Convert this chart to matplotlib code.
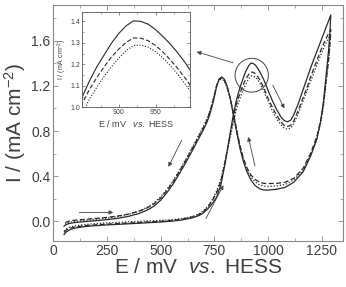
import matplotlib
matplotlib.use('Agg')
import matplotlib.pyplot as plt
from matplotlib.patches import Ellipse
from matplotlib.ticker import MultipleLocator, FixedLocator, AutoMinorLocator

plt.rcParams['font.family'] = ['Liberation Sans', 'DejaVu Sans']
plt.rcParams['mathtext.fontset'] = 'custom'
plt.rcParams['mathtext.rm'] = 'Liberation Sans'
plt.rcParams['mathtext.it'] = 'Liberation Sans:italic'

# anodic (forward) sweep, E in mV vs HESS
E_fwd = [50, 60, 75, 100, 150, 200, 250, 300, 400, 500,
         550, 600, 650, 680, 700, 720, 740, 760, 780, 800,
         820, 835, 850, 860, 870, 880, 890, 900, 910, 920,
         930, 940, 950, 960, 970, 980, 990, 1000, 1020, 1040,
         1060, 1075, 1090, 1105, 1120, 1140, 1160, 1180, 1200, 1220,
         1240, 1260, 1280, 1292]
I_fwd_1 = [-0.12, -0.097, -0.078, -0.062, -0.048, -0.04, -0.034, -0.029, -0.019, -0.008,
           -0.001, 0.01, 0.03, 0.05, 0.075, 0.11, 0.155, 0.21, 0.32, 0.51,
           0.74, 0.91, 1.05, 1.125, 1.19, 1.245, 1.30, 1.345, 1.38, 1.403,
           1.40, 1.387, 1.362, 1.33, 1.295, 1.255, 1.21, 1.16, 1.07, 0.99,
           0.925, 0.893, 0.882, 0.895, 0.945, 1.04, 1.15, 1.26, 1.37, 1.47,
           1.57, 1.67, 1.77, 1.83]
I_fwd_2 = [-0.10, -0.08, -0.065, -0.052, -0.04, -0.033, -0.027, -0.022, -0.012, -0.002,
           0.005, 0.017, 0.038, 0.06, 0.085, 0.125, 0.18, 0.25, 0.35, 0.53,
           0.73, 0.88, 1.02, 1.085, 1.14, 1.19, 1.235, 1.272, 1.303, 1.323,
           1.322, 1.31, 1.288, 1.258, 1.222, 1.182, 1.138, 1.09, 1.01, 0.94,
           0.88, 0.85, 0.84, 0.85, 0.89, 0.98, 1.08, 1.18, 1.29, 1.39,
           1.49, 1.58, 1.66, 1.70]
I_fwd_3 = [-0.09, -0.07, -0.055, -0.042, -0.03, -0.022, -0.016, -0.011, -0.002, 0.006,
           0.012, 0.022, 0.043, 0.066, 0.092, 0.135, 0.19, 0.265, 0.37, 0.53,
           0.71, 0.84, 0.975, 1.04, 1.095, 1.145, 1.19, 1.23, 1.265, 1.288,
           1.29, 1.28, 1.26, 1.23, 1.195, 1.155, 1.11, 1.065, 0.98, 0.91,
           0.855, 0.825, 0.815, 0.825, 0.865, 0.95, 1.05, 1.15, 1.25, 1.35,
           1.45, 1.54, 1.62, 1.66]

# cathodic (reverse) sweep
E_rev = [1292, 1288, 1282, 1270, 1258, 1245, 1227, 1200, 1164, 1120,
         1080, 1040, 1000, 980, 960, 940, 920, 900, 885, 870,
         855, 840, 825, 810, 797, 785, 772, 760, 745, 730,
         715, 700, 675, 650, 620, 590, 560, 530, 500, 470,
         440, 400, 350, 300, 250, 200, 150, 100, 75, 60,
         50]
I_rev_1 = [1.83, 1.68, 1.52, 1.29, 1.06, 0.89, 0.73, 0.585, 0.44, 0.345,
           0.30, 0.283, 0.275, 0.276, 0.288, 0.315, 0.365, 0.445, 0.53, 0.64,
           0.78, 0.93, 1.08, 1.195, 1.258, 1.28, 1.262, 1.19, 1.06, 0.955,
           0.875, 0.815, 0.725, 0.635, 0.53, 0.43, 0.335, 0.255, 0.185, 0.135,
           0.10, 0.068, 0.042, 0.025, 0.013, 0.004, -0.004, -0.013, -0.021, -0.03,
           -0.045]
I_rev_2 = [1.70, 1.58, 1.44, 1.24, 1.04, 0.89, 0.75, 0.61, 0.47, 0.38,
           0.345, 0.335, 0.333, 0.335, 0.345, 0.37, 0.41, 0.48, 0.56, 0.665,
           0.80, 0.945, 1.085, 1.19, 1.25, 1.27, 1.26, 1.20, 1.08, 0.975,
           0.895, 0.835, 0.745, 0.655, 0.55, 0.45, 0.355, 0.275, 0.205, 0.155,
           0.12, 0.088, 0.062, 0.045, 0.033, 0.024, 0.016, 0.008, 0.0, -0.01,
           -0.025]
I_rev_3 = [1.66, 1.55, 1.42, 1.22, 1.02, 0.87, 0.73, 0.595, 0.455, 0.365,
           0.325, 0.312, 0.308, 0.31, 0.322, 0.348, 0.392, 0.465, 0.548, 0.655,
           0.79, 0.935, 1.075, 1.18, 1.24, 1.262, 1.255, 1.20, 1.085, 0.985,
           0.905, 0.845, 0.755, 0.665, 0.56, 0.46, 0.365, 0.285, 0.215, 0.162,
           0.125, 0.09, 0.06, 0.04, 0.026, 0.016, 0.007, -0.003, -0.012, -0.022,
           -0.035]

inset_xticks = [900, 950]

cycles = [
    (I_fwd_1, I_rev_1, '-'),
    (I_fwd_2, I_rev_2, (0, (4, 2))),
    (I_fwd_3, I_rev_3, (0, (1, 1.5))),
]

fig = plt.figure(figsize=(3.46, 2.87), dpi=100)
ax = fig.add_axes([0.154, 0.161, 0.838, 0.822])

for i_f, i_r, ls in cycles:
    ax.plot(E_fwd + E_rev, i_f + i_r, color='#2a2a2a', lw=0.9, ls=ls)

ax.set_xlim(0, 1350)
ax.set_ylim(-0.175, 1.92)
ax.xaxis.set_major_locator(MultipleLocator(250))
ax.xaxis.set_minor_locator(MultipleLocator(125))
ax.yaxis.set_major_locator(MultipleLocator(0.4))
ax.yaxis.set_minor_locator(MultipleLocator(0.2))
ax.yaxis.set_major_formatter(matplotlib.ticker.FormatStrFormatter('%.1f'))
ax.tick_params(which='both', direction='in', top=True, right=True,
               colors='#888888', labelcolor='#404040', labelsize=10, pad=2)
ax.tick_params(which='major', length=3.5, width=0.6)
ax.tick_params(which='minor', length=2, width=0.5)
for s in ax.spines.values():
    s.set_color('#888888')
    s.set_linewidth(0.8)
ax.set_xlabel(r'E / mV  $\mathit{vs.}$ HESS', fontsize=15, color='#404040', labelpad=0)
ax.set_ylabel(r'I / (mA cm$^{-2}$)', fontsize=15, color='#404040', labelpad=2)

# circle around the anodic peak
ax.add_patch(Ellipse((924, 1.295), 155, 0.30, fill=False, color='#444444', lw=0.7))

arrows = [
    ((838, 1.405), (668, 1.503)),
    ((121, 0.077), (279, 0.077)),
    ((598, 0.719), (536, 0.482)),
    ((711, 0.024), (792, 0.319)),
    ((939, 0.49), (908, 0.748)),
    ((1022, 1.207), (1076, 1.0)),
]
for tail, head in arrows:
    ax.annotate('', xy=head, xytext=tail,
                arrowprops=dict(arrowstyle='-|>', color='#444444', lw=0.6,
                                mutation_scale=6, shrinkA=0, shrinkB=0))

# inset
axi = fig.add_axes([0.238, 0.626, 0.311, 0.333])
for i_f, i_r, ls in cycles:
    axi.plot(E_fwd, i_f, color='#2a2a2a', lw=0.8, ls=ls)
axi.set_xlim(850, 997)
axi.set_ylim(1.0, 1.445)
axi.xaxis.set_major_locator(FixedLocator(inset_xticks))
axi.xaxis.set_minor_locator(MultipleLocator(25))
axi.yaxis.set_major_locator(MultipleLocator(0.1))
axi.yaxis.set_minor_locator(AutoMinorLocator(2))
axi.yaxis.set_major_formatter(matplotlib.ticker.FormatStrFormatter('%.1f'))
axi.tick_params(which='both', direction='in', top=True, right=True,
                colors='#666666', labelcolor='#404040', labelsize=5, pad=1.5)
axi.tick_params(which='major', length=2, width=0.5)
axi.tick_params(which='minor', length=1.2, width=0.4)
for s in axi.spines.values():
    s.set_color('#555555')
    s.set_linewidth(0.6)
axi.set_xlabel(r'E / mV   $\mathit{vs.}$ HESS', fontsize=6.5, color='#404040', labelpad=1)
axi.set_ylabel(r'I / (mA cm$^{-2}$)', fontsize=5, color='#404040', labelpad=1)

fig.savefig('out.png', dpi=100)
